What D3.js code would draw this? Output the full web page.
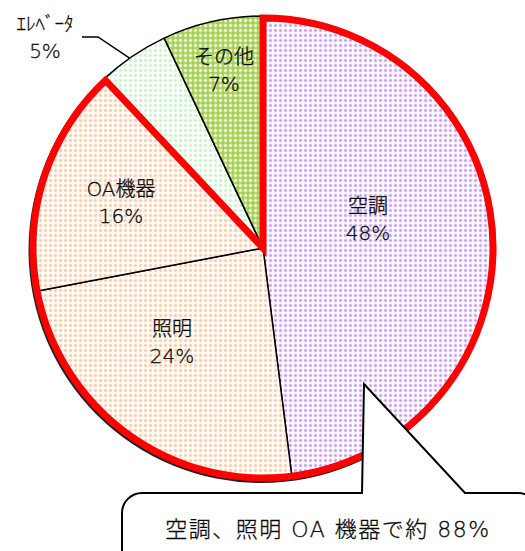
<!DOCTYPE html>
<html>
<head>
<meta charset="utf-8">
<script src="https://cdn.jsdelivr.net/npm/d3@7"></script>
<style>
  body { margin: 0; background: #fff; }
  svg { display: block; font-family: "DejaVu Sans", "Noto Sans CJK JP", sans-serif; font-weight: 300; }
  text { stroke: #000; stroke-width: 0.3px; }
</style>
</head>
<body>
<div id="chart"></div>
<script>
// values, clockwise from 12 o'clock
const labels = ["空調", "照明", "OA機器", "ｴﾚﾍﾞｰﾀ", "その他"];
const values = [48, 24, 16, 5, 7];
const dotColors = ["#c496f2", "#fcc49a", "#fcc49a", "#c2f2c2", "#ffffff"];
const bgColors = ["#ffffff", "#ffffff", "#ffffff", "#ffffff", "#a6d052"];
const calloutText = "空調、照明 OA 機器で約 88%";

const width = 525, height = 551;
const cx = 263, cy = 248, r = 232;

const svg = d3.select("#chart")
  .append("svg")
  .attr("width", width)
  .attr("height", height);

const defs = svg.append("defs");
dotColors.forEach((c, i) => {
  const p = defs.append("pattern")
    .attr("id", "pat" + i)
    .attr("patternUnits", "userSpaceOnUse")
    .attr("width", 5).attr("height", 5);
  p.append("rect").attr("width", 5).attr("height", 5).attr("fill", bgColors[i]);
  p.append("circle").attr("cx", 2.5).attr("cy", 2.5).attr("r", 1.9)
    .attr("fill", c).attr("opacity", 0.5);
  p.append("circle").attr("cx", 2.5).attr("cy", 2.5).attr("r", 1.1)
    .attr("fill", c);
});

const pie = d3.pie().sort(null).value(d => d);
const arcs = pie(values);
const arc = d3.arc().innerRadius(0).outerRadius(r);

const g = svg.append("g").attr("transform", `translate(${cx},${cy})`);

// shadow
g.append("circle")
  .attr("cx", -1.5).attr("cy", 2).attr("r", r + 1)
  .attr("fill", "#222");

g.selectAll("path.slice")
  .data(arcs)
  .join("path")
  .attr("class", "slice")
  .attr("d", arc)
  .attr("fill", (d, i) => `url(#pat${i})`)
  .attr("stroke", "#000")
  .attr("stroke-width", 1.5)
  .attr("stroke-linejoin", "round");

// red outline round the first three slices
const groupArc = d3.arc().innerRadius(0).outerRadius(r - 2)
  .startAngle(arcs[0].startAngle).endAngle(arcs[2].endAngle);
g.append("path")
  .attr("d", groupArc())
  .attr("fill", "none")
  .attr("stroke", "#ff0000")
  .attr("stroke-width", 7)
  .attr("stroke-linejoin", "miter");

// slice labels
const labelPos = [[105, -35], [-91, 88], [-142, -52], [-218, -217], [-39, -184]];
labels.forEach((t, i) => {
  const [x, y] = labelPos[i];
  const txt = g.append("text")
    .attr("x", x).attr("y", y)
    .attr("text-anchor", "middle")
    .attr("font-size", 20)
    .attr("fill", "#111");
  txt.append("tspan").attr("x", x).attr("dy", 0)
    .attr("font-size", i === 3 ? 19 : 20).text(t);
  txt.append("tspan").attr("x", x).attr("dy", 27).text(values[i] + "%");
});

// leader line for the elevator label
const a3 = arcs[3].startAngle + 0.45 * (arcs[3].endAngle - arcs[3].startAngle);
const ex = Math.sin(a3) * r, ey = -Math.cos(a3) * r;
g.append("polyline")
  .attr("points", `${-181},${-211} ${-165},${-211} ${ex},${ey}`)
  .attr("fill", "none")
  .attr("stroke", "#000")
  .attr("stroke-width", 1.5);

// callout
const bx0 = 122, by0 = 493, bx1 = 538, by1 = 575, rad = 20;
const callout = d3.path();
callout.moveTo(bx0 + rad, by0);
callout.lineTo(362, by0);
callout.lineTo(364, 384);
callout.lineTo(465, by0);
callout.lineTo(bx1 - rad, by0);
callout.arcTo(bx1, by0, bx1, by0 + rad, rad);
callout.lineTo(bx1, by1);
callout.lineTo(bx0, by1);
callout.lineTo(bx0, by0 + rad);
callout.arcTo(bx0, by0, bx0 + rad, by0, rad);
callout.closePath();
svg.append("path")
  .attr("d", callout.toString())
  .attr("fill", "#fff")
  .attr("stroke", "#000")
  .attr("stroke-width", 2);

svg.append("text")
  .attr("x", 328).attr("y", 537)
  .attr("text-anchor", "middle")
  .attr("font-size", 22)
  .attr("letter-spacing", 1.5)
  .attr("fill", "#111")
  .text(calloutText);
</script>
</body>
</html>
